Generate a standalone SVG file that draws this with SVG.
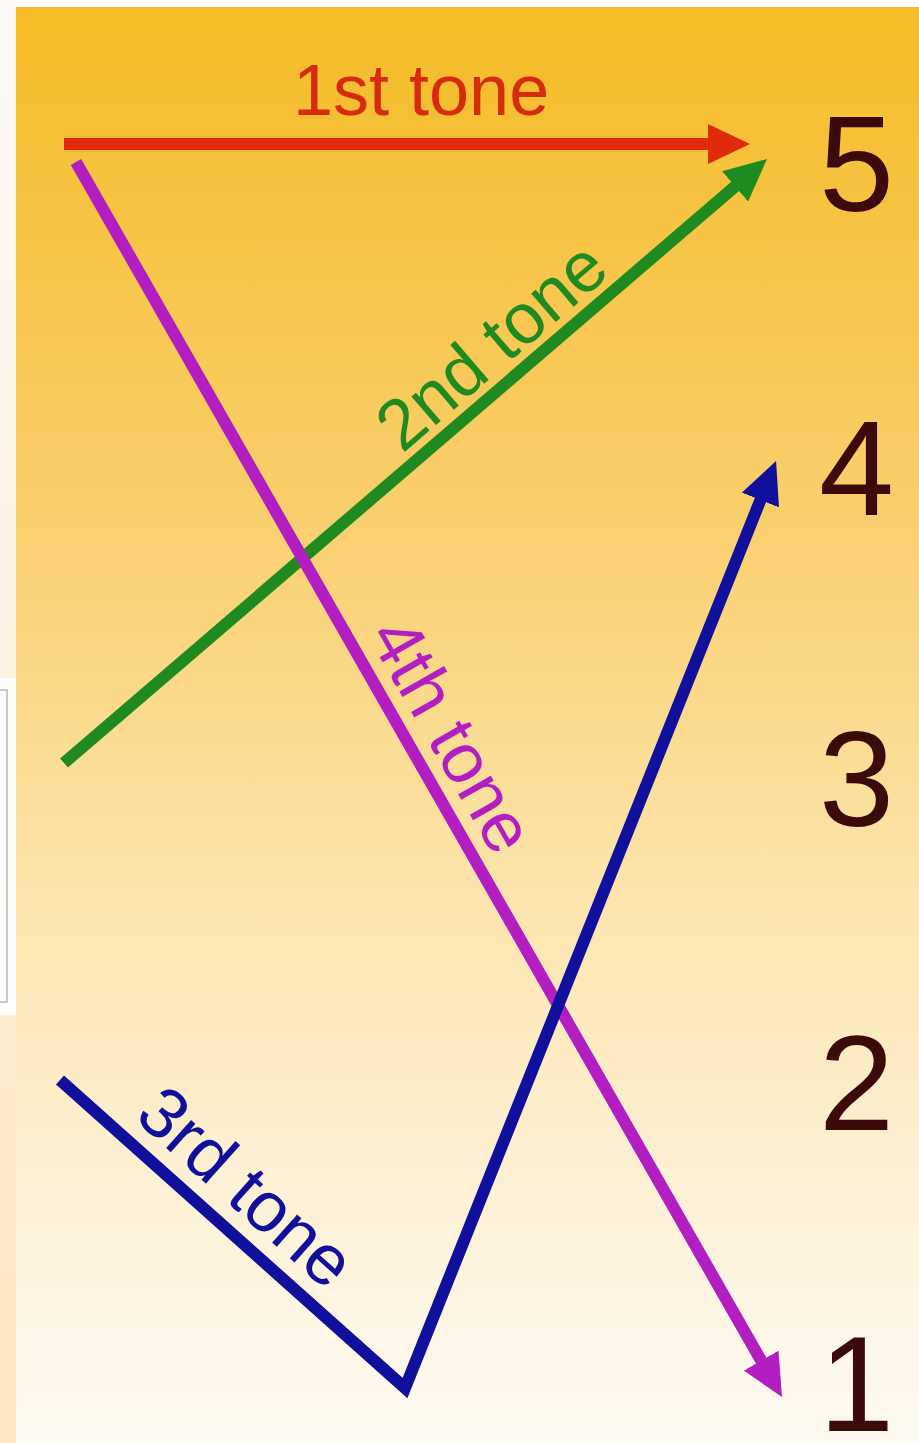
<svg xmlns="http://www.w3.org/2000/svg" width="919" height="1443" viewBox="0 0 919 1443">
  <defs>
    <linearGradient id="bg" x1="0" y1="0" x2="0" y2="1">
      <stop offset="0" stop-color="#f5bb25"/>
      <stop offset="0.35" stop-color="#f9cf6c"/>
      <stop offset="0.6" stop-color="#fce3a8"/>
      <stop offset="0.8" stop-color="#fdf0d2"/>
      <stop offset="1" stop-color="#fffbf3"/>
    </linearGradient>
    <linearGradient id="strip" x1="0" y1="0" x2="0" y2="1">
      <stop offset="0" stop-color="#fdf9f4"/>
      <stop offset="0.45" stop-color="#fdf2e2"/>
      <stop offset="0.7" stop-color="#fdeccf"/>
      <stop offset="1" stop-color="#fde6c2"/>
    </linearGradient>
    <marker id="ahRed" markerUnits="userSpaceOnUse" viewBox="0 0 42 40" markerWidth="42" markerHeight="40" refX="12" refY="20" orient="auto">
      <path d="M0,0 L42,20 L0,40 Z" fill="#e02a08"/>
    </marker>
    <marker id="ahGreen" markerUnits="userSpaceOnUse" viewBox="0 0 42 40" markerWidth="42" markerHeight="40" refX="12" refY="20" orient="auto">
      <path d="M0,0 L42,20 L0,40 Z" fill="#1f8a1f"/>
    </marker>
    <marker id="ahPurple" markerUnits="userSpaceOnUse" viewBox="0 0 42 40" markerWidth="42" markerHeight="40" refX="12" refY="20" orient="auto">
      <path d="M0,0 L42,20 L0,40 Z" fill="#b31ec2"/>
    </marker>
    <marker id="ahBlue" markerUnits="userSpaceOnUse" viewBox="0 0 42 40" markerWidth="42" markerHeight="40" refX="12" refY="20" orient="auto">
      <path d="M0,0 L42,20 L0,40 Z" fill="#10109c"/>
    </marker>
  </defs>
  <style>
    .conn { fill: none; stroke-width: 12; stroke-linecap: butt; stroke-linejoin: miter; }
    .lbl { font-family: "Liberation Sans", Arial, sans-serif; font-size: 71px; }
    .num { font-family: "Liberation Sans", Arial, sans-serif; font-size: 135px; fill: #3d0a0a; }
  </style>

  <g id="background">
    <rect x="0" y="0" width="919" height="1443" fill="#ffffff"/>
    <rect x="0" y="0" width="16" height="1443" fill="url(#strip)"/>
    <rect x="0" y="678" width="16" height="337" fill="#fdfdfd"/>
    <rect x="-2" y="690" width="9" height="312" fill="#fafafa" stroke="#c8c8c8" stroke-width="2"/>
    <rect x="16" y="7" width="903" height="1436" fill="url(#bg)"/>
  </g>

  <g id="connectors">
    <line id="tone1-line" class="conn" x1="64" y1="144" x2="720" y2="144" stroke="#e02a08" marker-end="url(#ahRed)"/>
    <line id="tone2-line" class="conn" x1="64" y1="763" x2="744.2" y2="178.6" stroke="#1f8a1f" marker-end="url(#ahGreen)"/>
    <line id="tone4-line" class="conn" x1="76" y1="162" x2="767.1" y2="1371" stroke="#b31ec2" marker-end="url(#ahPurple)"/>
    <polyline id="tone3-line" class="conn" points="60,1080 405,1388 764.9,488.9" stroke="#10109c" marker-end="url(#ahBlue)"/>
  </g>

  <g id="label-tone1">
    <text class="lbl" x="293" y="115" font-size="72" fill="#d82a0c" style="font-size:72px">1st tone</text>
  </g>
  <g id="label-tone2">
    <text class="lbl" transform="translate(64,763) rotate(-40.67)" x="458" y="-14" fill="#1f8a1f">2nd tone</text>
  </g>
  <g id="label-tone3">
    <text class="lbl" transform="translate(60,1080) rotate(41.76)" x="80" y="-20" fill="#10109c">3rd tone</text>
  </g>
  <g id="label-tone4">
    <text class="lbl" transform="translate(76,162) rotate(60.25)" x="556" y="-18" fill="#b31ec2">4th tone</text>
  </g>

  <g id="level-5"><text class="num" x="819" y="211">5</text></g>
  <g id="level-4"><text class="num" x="819" y="515">4</text></g>
  <g id="level-3"><text class="num" x="819" y="826">3</text></g>
  <g id="level-2"><text class="num" x="819" y="1130">2</text></g>
  <g id="level-1"><text class="num" x="819" y="1431">1</text></g>
</svg>
